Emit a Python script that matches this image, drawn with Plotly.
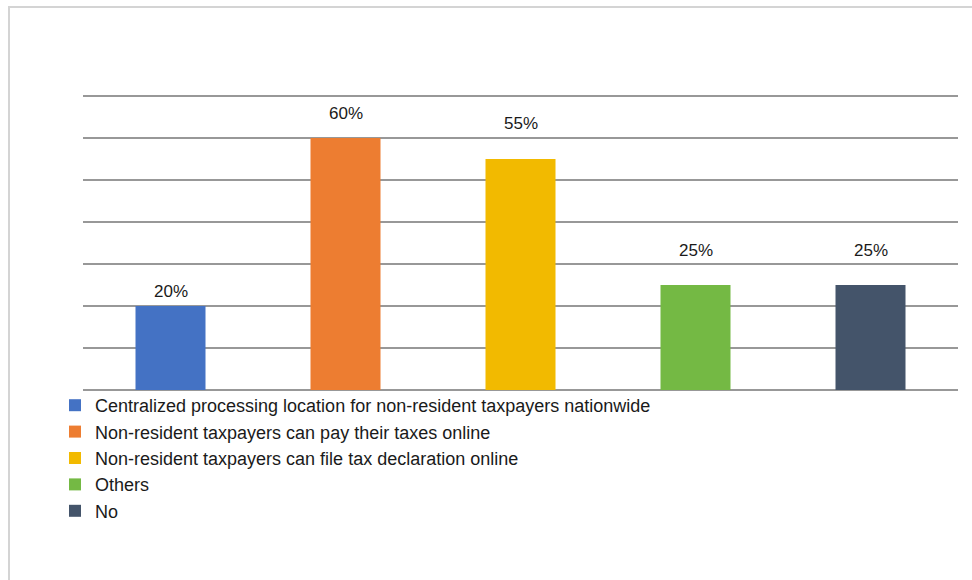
import plotly.graph_objects as go

# Survey responses: share of respondents per option
categories = [
    "Centralized processing location for non-resident taxpayers nationwide",
    "Non-resident taxpayers can pay their taxes online",
    "Non-resident taxpayers can file tax declaration online",
    "Others",
    "No",
]
values = [20, 60, 55, 25, 25]
colors = ["#4472C4", "#ED7D31", "#F2BA00", "#74B944", "#44546A"]
# vertical offset (px) of each value label above its bar
label_shift = [15, 25, 36, 35, 35]

fig = go.Figure()
for cat, val, col in zip(categories, values, colors):
    fig.add_trace(go.Bar(
        x=[cat], y=[val], name=cat, width=0.4,
        marker=dict(color=col, line=dict(width=0)),
    ))

for cat, val, dy in zip(categories, values, label_shift):
    fig.add_annotation(
        x=cat, y=val, text=f"{val}%", showarrow=False,
        yshift=dy, yanchor="middle", xanchor="center",
        font=dict(size=17, color="#1a1a1a"),
    )

# plot area: x 83..958 px, y 95..390 px
PW, PH = 875, 295
# light frame around the chart area (only top and left edges fall inside the page)
fig.add_shape(
    type="rect", xref="paper", yref="paper",
    x0=(9 - 83) / PW, x1=(990 - 83) / PW,
    y0=(390 - 600) / PH, y1=(390 - 7) / PH,
    line=dict(color="#d4d4d4", width=2), fillcolor="rgba(0,0,0,0)", layer="below",
)

fig.update_layout(
    width=972, height=580,
    margin=dict(l=83, r=14, t=95, b=190, autoexpand=False),
    paper_bgcolor="white", plot_bgcolor="white",
    barmode="overlay",
    font=dict(family="Liberation Sans, Arial, sans-serif", color="#1a1a1a"),
    xaxis=dict(showticklabels=False, showgrid=False, zeroline=False,
               showline=False, ticks=""),
    yaxis=dict(range=[0, 70.25], dtick=10, showticklabels=False,
               showgrid=True, gridcolor="#989898", gridwidth=2,
               zeroline=True, zerolinecolor="#989898", zerolinewidth=2,
               ticks=""),
    showlegend=True,
    legend=dict(
        orientation="v", xref="container", yref="container",
        x=55 / 972, y=1 - 387 / 580, xanchor="left", yanchor="top",
        font=dict(size=18, color="#1a1a1a"),
        bgcolor="rgba(0,0,0,0)", tracegroupgap=0,
    ),
)

fig.write_html("out.html")
